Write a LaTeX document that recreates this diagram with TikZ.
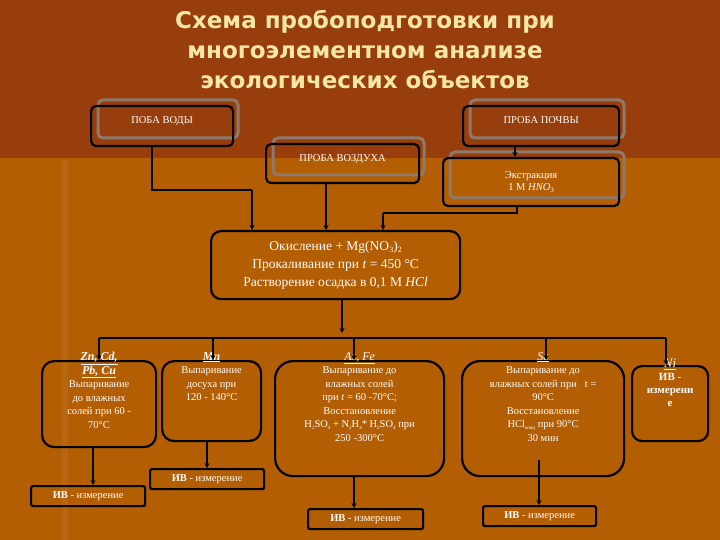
\documentclass[tikz,border=0pt]{standalone}
\usepackage{fontspec}
\setmainfont{Liberation Serif}
\newfontfamily\titlefont{DejaVu Sans}
\usetikzlibrary{arrows.meta}
\definecolor{bgtop}{HTML}{973E0C}
\definecolor{bgbot}{HTML}{B35E02}
\definecolor{titlec}{HTML}{F6E7A6}
\definecolor{shadowc}{HTML}{8C7A6C}
\begin{document}
\begin{tikzpicture}[x=1pt,y=-1pt,
  box/.style={draw=black,line width=2.2pt,rounded corners=#1,text=white,align=center,inner sep=1pt,font=\fontsize{10.5}{12}\selectfont},
  box/.default=5pt,
  txt/.style={text=white,align=center,inner sep=0pt,anchor=north,font=\fontsize{10.5}{13.5}\selectfont},
  shad/.style={draw=shadowc,line width=3pt,rounded corners=5pt},
  arr/.style={line width=1.3pt,-{Stealth[length=5pt,width=5pt]}},
  ln/.style={line width=1.3pt}]
\useasboundingbox (0,0) rectangle (720,540);
\fill[bgbot] (0,0) rectangle (720,540);
\fill[bgtop] (0,0) rectangle (720,158);
\fill[bgbot!85!white,opacity=0.4] (62,160) rectangle (68,540);
% title
\node[text=titlec,font=\titlefont\bfseries\fontsize{23}{30}\selectfont,align=center] (title) at (365,50)
 {Схема пробоподготовки при\\многоэлементном анализе\\экологических объектов};
% shadows
\draw[shad] (98,100) rectangle (238,138);
\draw[shad] (470,100) rectangle (624,138);
\draw[shad] (273,138) rectangle (424,175);
\draw[shad] (450,152) rectangle (624,198);
% top boxes
\node[box,minimum width=142pt,minimum height=40pt,anchor=north west,text depth=12pt] (voda) at (90,105) {ПОБА ВОДЫ};
\node[box,minimum width=156pt,minimum height=40pt,anchor=north west,text depth=12pt] (pochva) at (462,105) {ПРОБА ПОЧВЫ};
\node[box,minimum width=153pt,minimum height=39pt,anchor=north west,text depth=12pt] (vozduh) at (265,143) {ПРОБА ВОЗДУХА};
\node[box,minimum width=176pt,minimum height=48pt,anchor=north west] (extr) at (442,157) {Экстракция\\1 M \textit{HNO}\raisebox{-2pt}{\scriptsize 3}};
\node[box=10pt,minimum width=249pt,minimum height=68pt,anchor=north west,font=\fontsize{13.5}{18}\selectfont] (center) at (210,230)
 {Окисление + Mg(NO\raisebox{-2pt}{\footnotesize 3})\raisebox{-2pt}{\footnotesize 2}\\Прокаливание при \textit{t} = 450 °C\\Растворение осадка в 0,1 M \textit{HCl}};
% bottom boxes (frames)
\node[box=12pt,minimum width=114pt,minimum height=86pt,anchor=north west] (zn) at (41,360) {};
\node[box=12pt,minimum width=99pt,minimum height=80pt,anchor=north west] (mn) at (161,360) {};
\node[box=18pt,minimum width=169pt,minimum height=115pt,anchor=north west] (as) at (274,360) {};
\node[box=18pt,minimum width=162pt,minimum height=115pt,anchor=north west] (se) at (461,360) {};
\node[box=10pt,minimum width=76pt,minimum height=75pt,anchor=north west] (ni) at (631,365) {};
% bottom box texts
\node[txt] (zntxt) at ([yshift=8pt]zn.north)
 {\fontsize{12}{14.5}\selectfont\textbf{\textit{\underline{Zn, Cd,}}}\\\fontsize{12}{14.5}\selectfont\textbf{\textit{\underline{Pb, Cu}}}\\Выпаривание\\до влажных\\солей при 60 -\\70°C};
\node[txt] (mntxt) at ([yshift=8pt]mn.north)
 {\fontsize{12}{14.5}\selectfont\textbf{\textit{\underline{Mn}}}\\Выпаривание\\досуха при\\120 - 140°C};
\node[txt] (astxt) at ([yshift=8pt]as.north)
 {\fontsize{12}{14.5}\selectfont\textit{\underline{As, Fe}}\\Выпаривание до\\влажных солей\\при \textit{t} = 60 -70°C;\\Восстановление\\H\raisebox{-2pt}{\tiny 2}SO\raisebox{-2pt}{\tiny 4} + N\raisebox{-2pt}{\tiny 2}H\raisebox{-2pt}{\tiny 4}* H\raisebox{-2pt}{\tiny 2}SO\raisebox{-2pt}{\tiny 4} при\\250 -300°C};
\node[txt] (setxt) at ([yshift=8pt]se.north)
 {\fontsize{12}{14.5}\selectfont\textit{\underline{Se}}\\Выпаривание до\\влажных солей при \ \ t =\\90°C\\Восстановление\\HCl\raisebox{-2pt}{\tiny конц} при 90°C\\30 мин};
\node[txt,font=\fontsize{11}{13}\selectfont] (nitxt) at ([yshift=6pt]ni.north)
 {\fontsize{13}{15}\selectfont\textit{\underline{Ni}}\\\textbf{ИВ -}\\\textbf{измерени}\\\textbf{е}};
% IV boxes
\node[box=2pt,minimum width=114pt,minimum height=20pt,anchor=north west] (ivzn) at (30,485) {\textbf{ИВ} - измерение};
\node[box=2pt,minimum width=114pt,minimum height=20pt,anchor=north west] (ivmn) at (149,468) {\textbf{ИВ} - измерение};
\node[box=2pt,minimum width=115pt,minimum height=20pt,anchor=north west] (ivas) at (307,508) {\textbf{ИВ} - измерение};
\node[box=2pt,minimum width=113pt,minimum height=20pt,anchor=north west] (ivse) at (482,505) {\textbf{ИВ} - измерение};
% connectors
\draw[ln] (voda.south -| 152,0) |- (252,190) coordinate (c1);
\draw[arr] (c1) -- (center.north -| c1);
\draw[arr] (vozduh.south -| 326,0) -- (center.north -| 326,0);
\draw[arr] (pochva.south -| 515,0) -- (extr.north -| 515,0);
\draw[ln] (extr.south -| 517,0) -- (517,213) coordinate (c2) -- (383,213) coordinate (c3);
\draw[arr] (c3) -- (center.north -| c3);
\draw[arr] (center.south -| 342,0) -- (342,333);
\draw[ln] (99,338) coordinate (b1) -- (666,338) coordinate (b2);
\draw[arr] (b1) -- (zn.north -| b1);
\draw[arr] (213,338) -- (mn.north -| 213,0);
\draw[arr] (354,338) -- (as.north -| 354,0);
\draw[arr] (546,338) -- (se.north -| 546,0);
\draw[arr] (b2) -- (ni.north -| b2);
\draw[arr] (93,446) -- (ivzn.north -| 93,0);
\draw[arr] (207,440) -- (ivmn.north -| 207,0);
\draw[arr] (354,475) -- (ivas.north -| 354,0);
\draw[arr] (539,460) -- (ivse.north -| 539,0);
\end{tikzpicture}
\end{document}
